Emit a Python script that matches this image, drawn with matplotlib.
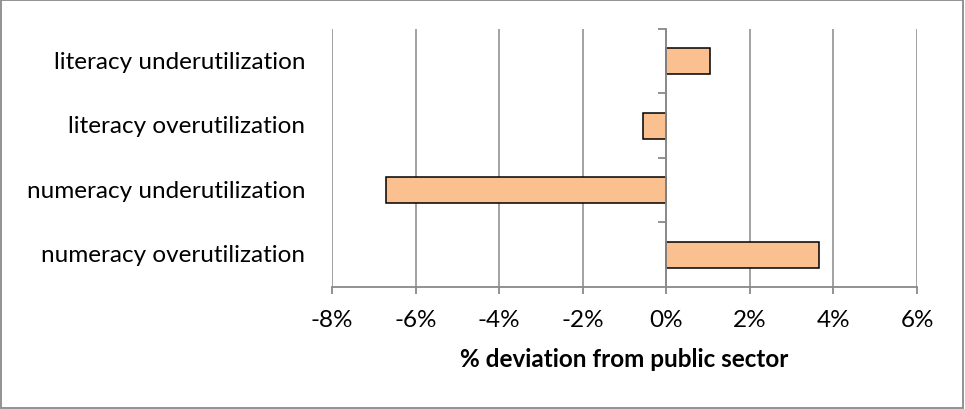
#!/usr/bin/env python3

import matplotlib
matplotlib.use('Agg')
import matplotlib.pyplot as plt
from matplotlib.patches import Rectangle
from matplotlib.ticker import FuncFormatter, MultipleLocator

# deviation from public sector, in percent (top to bottom)
categories = ["literacy underutilization",
              "literacy overutilization",
              "numeracy underutilization",
              "numeracy overutilization"]
deviation = [1.05, -0.56, -6.7, 3.66]

plt.rcParams['font.family'] = ['Lato', 'DejaVu Sans']

gridGrey = '#898989'
fontSize = 17.5

fig = plt.figure(figsize=(9.65, 4.1), dpi=100)
ax = fig.add_axes([0.344, 0.2976, 0.6063, 0.6293])

ypos = list(range(len(categories)))
ax.barh(ypos, deviation, height=0.4, color='#FAC090',
        edgecolor='black', linewidth=1.1, zorder=3)

ax.set_xlim(-8, 6)
ax.set_ylim(len(categories) - 0.5, -0.5)
ax.xaxis.set_major_locator(MultipleLocator(2))
ax.xaxis.set_major_formatter(FuncFormatter(lambda v, p: "%d%%" % round(v)))
ax.grid(True, axis='x', color=gridGrey, linewidth=1.1, zorder=0)

# category axis sits at zero, labels stay at the left edge
for side in ['top', 'right']:
    ax.spines[side].set_visible(False)
ax.spines['left'].set_position(('data', 0))
ax.spines['left'].set_color(gridGrey)
ax.spines['left'].set_linewidth(1.3)
ax.spines['left'].set_zorder(4)
ax.spines['bottom'].set_color(gridGrey)
ax.spines['bottom'].set_linewidth(1.3)

ax.set_yticks([i + 0.5 for i in range(-1, len(categories) - 1)])
ax.set_yticklabels([])
ax.tick_params(axis='y', length=6, width=1.3, color=gridGrey)
ax.tick_params(axis='x', length=5, width=1.3, color=gridGrey,
               labelsize=fontSize, pad=11)

for i, name in enumerate(categories):
    ax.text(-0.046, i, name, transform=ax.get_yaxis_transform(),
            ha='right', va='center', fontsize=fontSize)

ax.set_xlabel("% deviation from public sector", fontsize=fontSize,
              fontweight='bold', labelpad=12)

fig.add_artist(Rectangle((0.001, 0.002), 0.997, 0.995,
                         transform=fig.transFigure, fill=False,
                         edgecolor=gridGrey, linewidth=1.3))

fig.savefig("out.png", dpi=100)
